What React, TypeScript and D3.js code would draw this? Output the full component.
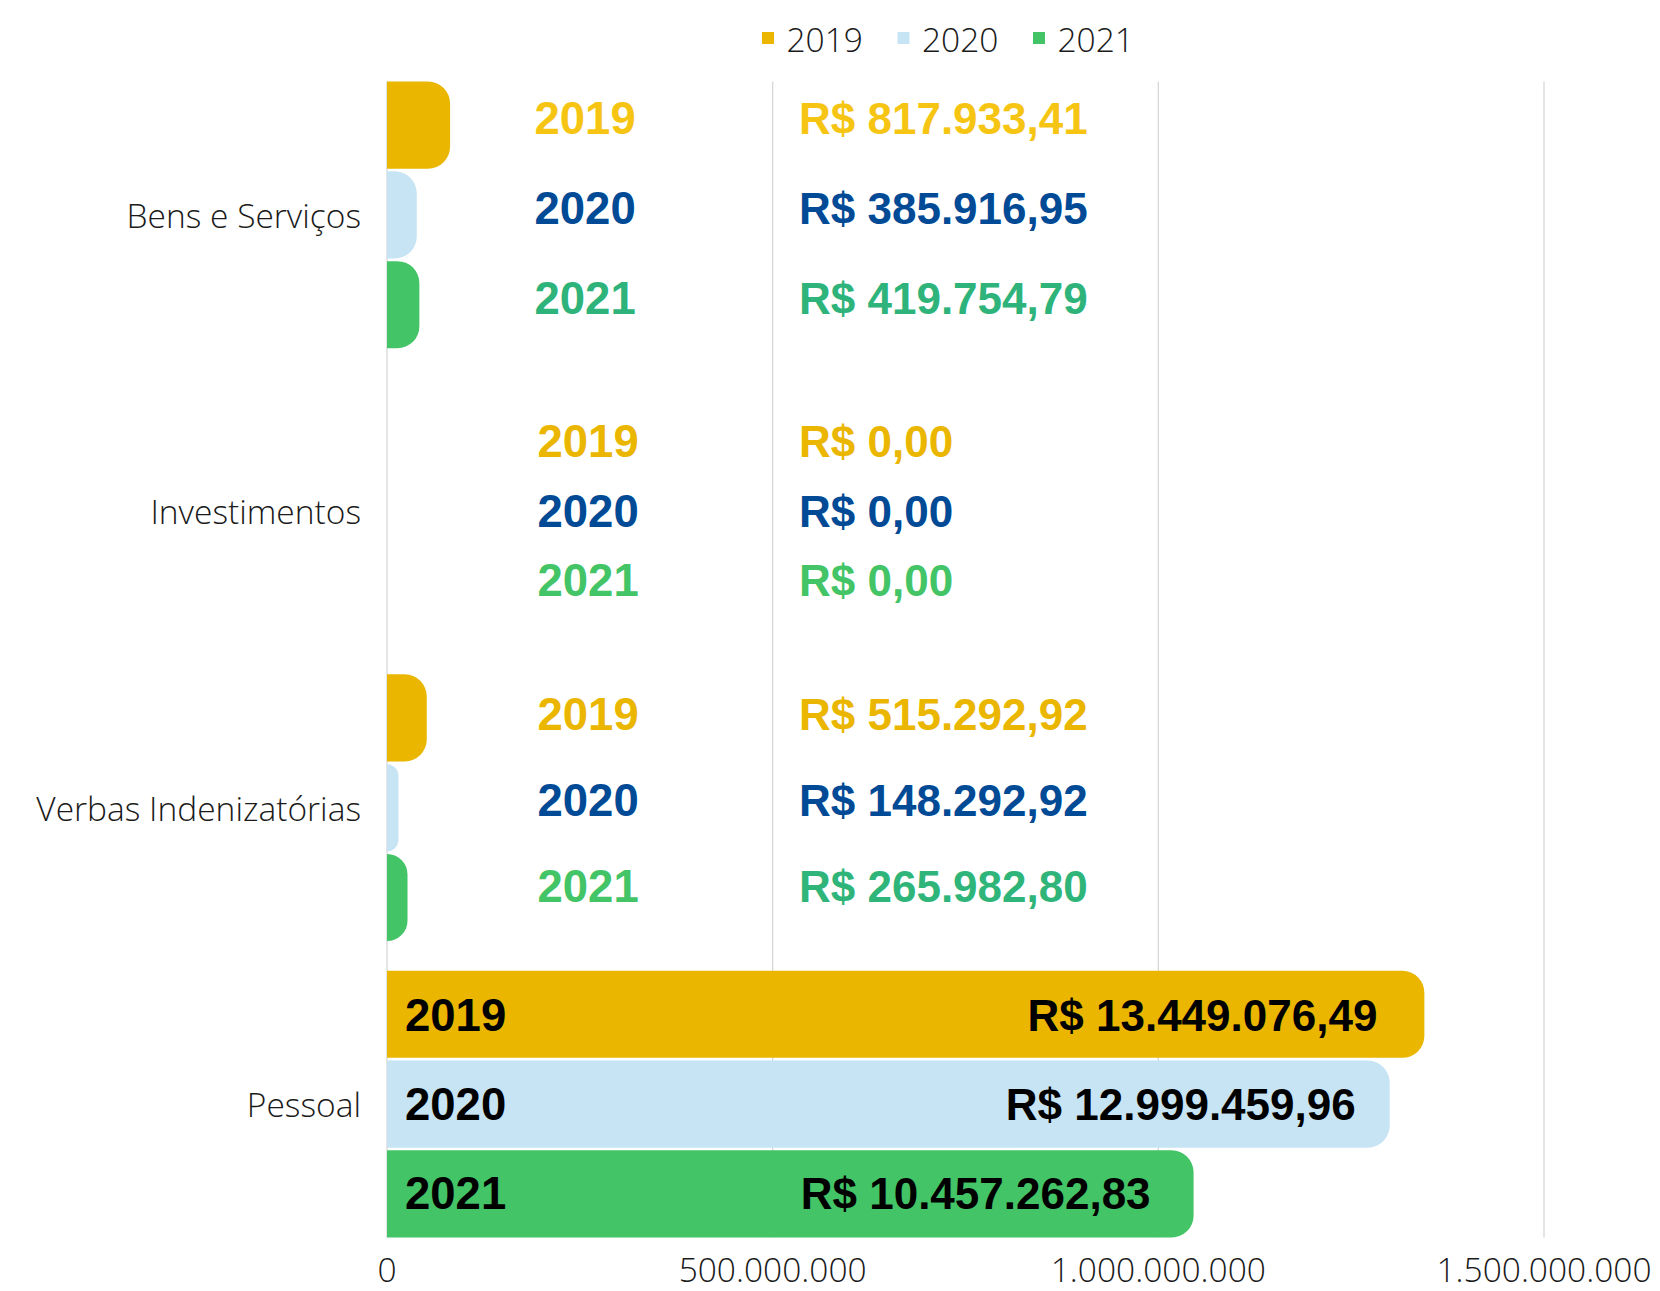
import React from "react";
import * as d3 from "d3";

const categories = ["Bens e Serviços", "Investimentos", "Verbas Indenizatórias", "Pessoal"];
const years = ["2019", "2020", "2021"];
const values2019 = [81793341, 0, 51529292, 1344907649];
const values2020 = [38591695, 0, 14829292, 1299945996];
const values2021 = [41975479, 0, 26598280, 1045726283];
const labels2019 = ["R$ 817.933,41", "R$ 0,00", "R$ 515.292,92", "R$ 13.449.076,49"];
const labels2020 = ["R$ 385.916,95", "R$ 0,00", "R$ 148.292,92", "R$ 12.999.459,96"];
const labels2021 = ["R$ 419.754,79", "R$ 0,00", "R$ 265.982,80", "R$ 10.457.262,83"];
const xTicks = [0, 500000000, 1000000000, 1500000000];

const barColors = ["#EAB600", "#C7E4F5", "#43C467"];
// label colours per category (row = category, col = year)
const labelColors = [
  ["#F6C514", "#004A96", "#2EB37A"],
  ["#EAB600", "#004A96", "#43C467"],
  ["#EAB600", "#004A96", "#2FB57A"],
  ["#000000", "#000000", "#000000"],
];
const yearColors = [
  ["#F6C514", "#004A96", "#2EB37A"],
  ["#EAB600", "#004A96", "#43C467"],
  ["#EAB600", "#004A96", "#43C467"],
  ["#000000", "#000000", "#000000"],
];
const labelSpacing = [90, 69.5, 86, 89];
const labelShift = [-6, 0, -7, 0];
const bigLabelInset = [47, 34, 43];

const W = 1660;
const H = 1291;
const x0 = 387;
const x1 = 1544;

const locale = d3.formatLocale({ decimal: ",", thousands: ".", grouping: [3], currency: ["R$", ""] });
const fmt = locale.format(",d");

function barPath(x: number, y: number, w: number, h: number, rMax: number) {
  if (w <= 0) return "";
  const r = Math.min(rMax, w, h / 2);
  return `M${x},${y}H${x + w - r}A${r},${r} 0 0 1 ${x + w},${y + r}V${y + h - r}A${r},${r} 0 0 1 ${x + w - r},${y + h}H${x}Z`;
}

export default function App() {
  const x = d3.scaleLinear().domain([0, 1500000000]).range([x0, x1]);
  const y = d3.scaleBand<string>().domain(categories).range([66.7, 1252.3]).paddingInner(0.1).paddingOuter(0.05);
  const yi = d3.scaleBand<string>().domain(years).range([0, y.bandwidth()]).paddingInner(0.03);
  const series = [values2019, values2020, values2021];
  const labels = [labels2019, labels2020, labels2021];
  const gridTop = y(categories[0])!;
  const gridBottom = y(categories[categories.length - 1])! + y.bandwidth();
  const axisFont = "'Open Sans', 'Noto Sans', sans-serif";
  const barFont = "'Liberation Sans', Arial, sans-serif";

  const legendX = [762, 897.5, 1033];

  return (
    <svg width={W} height={H} style={{ position: "absolute", left: 0, top: 0, background: "#fff" }}>
      {/* gridlines */}
      {xTicks.map((t) => (
        <line key={t} x1={x(t)} x2={x(t)} y1={gridTop} y2={gridBottom} stroke="#D4D4D4" strokeWidth={1.2} />
      ))}
      {/* bars */}
      {categories.map((c, ci) =>
        years.map((yr, yi2) => {
          const v = series[yi2][ci];
          const by = y(c)! + yi(yr)!;
          return (
            <path key={c + yr} d={barPath(x(0), by, x(v) - x(0), yi.bandwidth(), 22)} fill={barColors[yi2]} />
          );
        })
      )}
      {/* labels */}
      {categories.map((c, ci) =>
        years.map((yr, yi2) => {
          const v = series[yi2][ci];
          const isBig = ci === 3;
          const center = y(c)! + y.bandwidth() / 2;
          const ly = center + (yi2 - 1) * labelSpacing[ci] + labelShift[ci];
          return (
            <g key={"l" + c + yr} fontFamily={barFont} fontWeight="bold">
              <text
                x={isBig ? 405 : ci === 0 ? 534.5 : 537.5}
                y={ly}
                dominantBaseline="central"
                fontSize={45.5}
                fill={yearColors[ci][yi2]}
              >
                {yr}
              </text>
              <text
                x={isBig ? x(v) - bigLabelInset[yi2] : 799}
                y={ly}
                dominantBaseline="central"
                textAnchor={isBig ? "end" : "start"}
                fontSize={44}
                fill={labelColors[ci][yi2]}
              >
                {labels[yi2][ci]}
              </text>
            </g>
          );
        })
      )}
      {/* category labels */}
      {categories.map((c) => (
        <text
          key={c}
          x={361}
          y={y(c)! + y.bandwidth() / 2}
          textAnchor="end"
          dominantBaseline="central"
          fontFamily={axisFont}
          fontWeight={300}
          fontSize={33.5}
          fill="#1A1A1A"
        >
          {c}
        </text>
      ))}
      {/* x tick labels */}
      {xTicks.map((t) => (
        <text
          key={"t" + t}
          x={x(t)}
          y={1269}
          textAnchor="middle"
          dominantBaseline="central"
          fontFamily={axisFont}
          fontWeight={300}
          fontSize={33.5}
          fill="#1A1A1A"
        >
          {fmt(t)}
        </text>
      ))}
      {/* legend */}
      {years.map((yr, i) => (
        <g key={"lg" + yr}>
          <rect x={legendX[i]} y={32} width={12} height={12} fill={barColors[i]} />
          <text
            x={legendX[i] + 24.5}
            y={38.5}
            dominantBaseline="central"
            fontFamily={axisFont}
            fontWeight={300}
            fontSize={33.5}
            fill="#1A1A1A"
          >
            {yr}
          </text>
        </g>
      ))}
    </svg>
  );
}
